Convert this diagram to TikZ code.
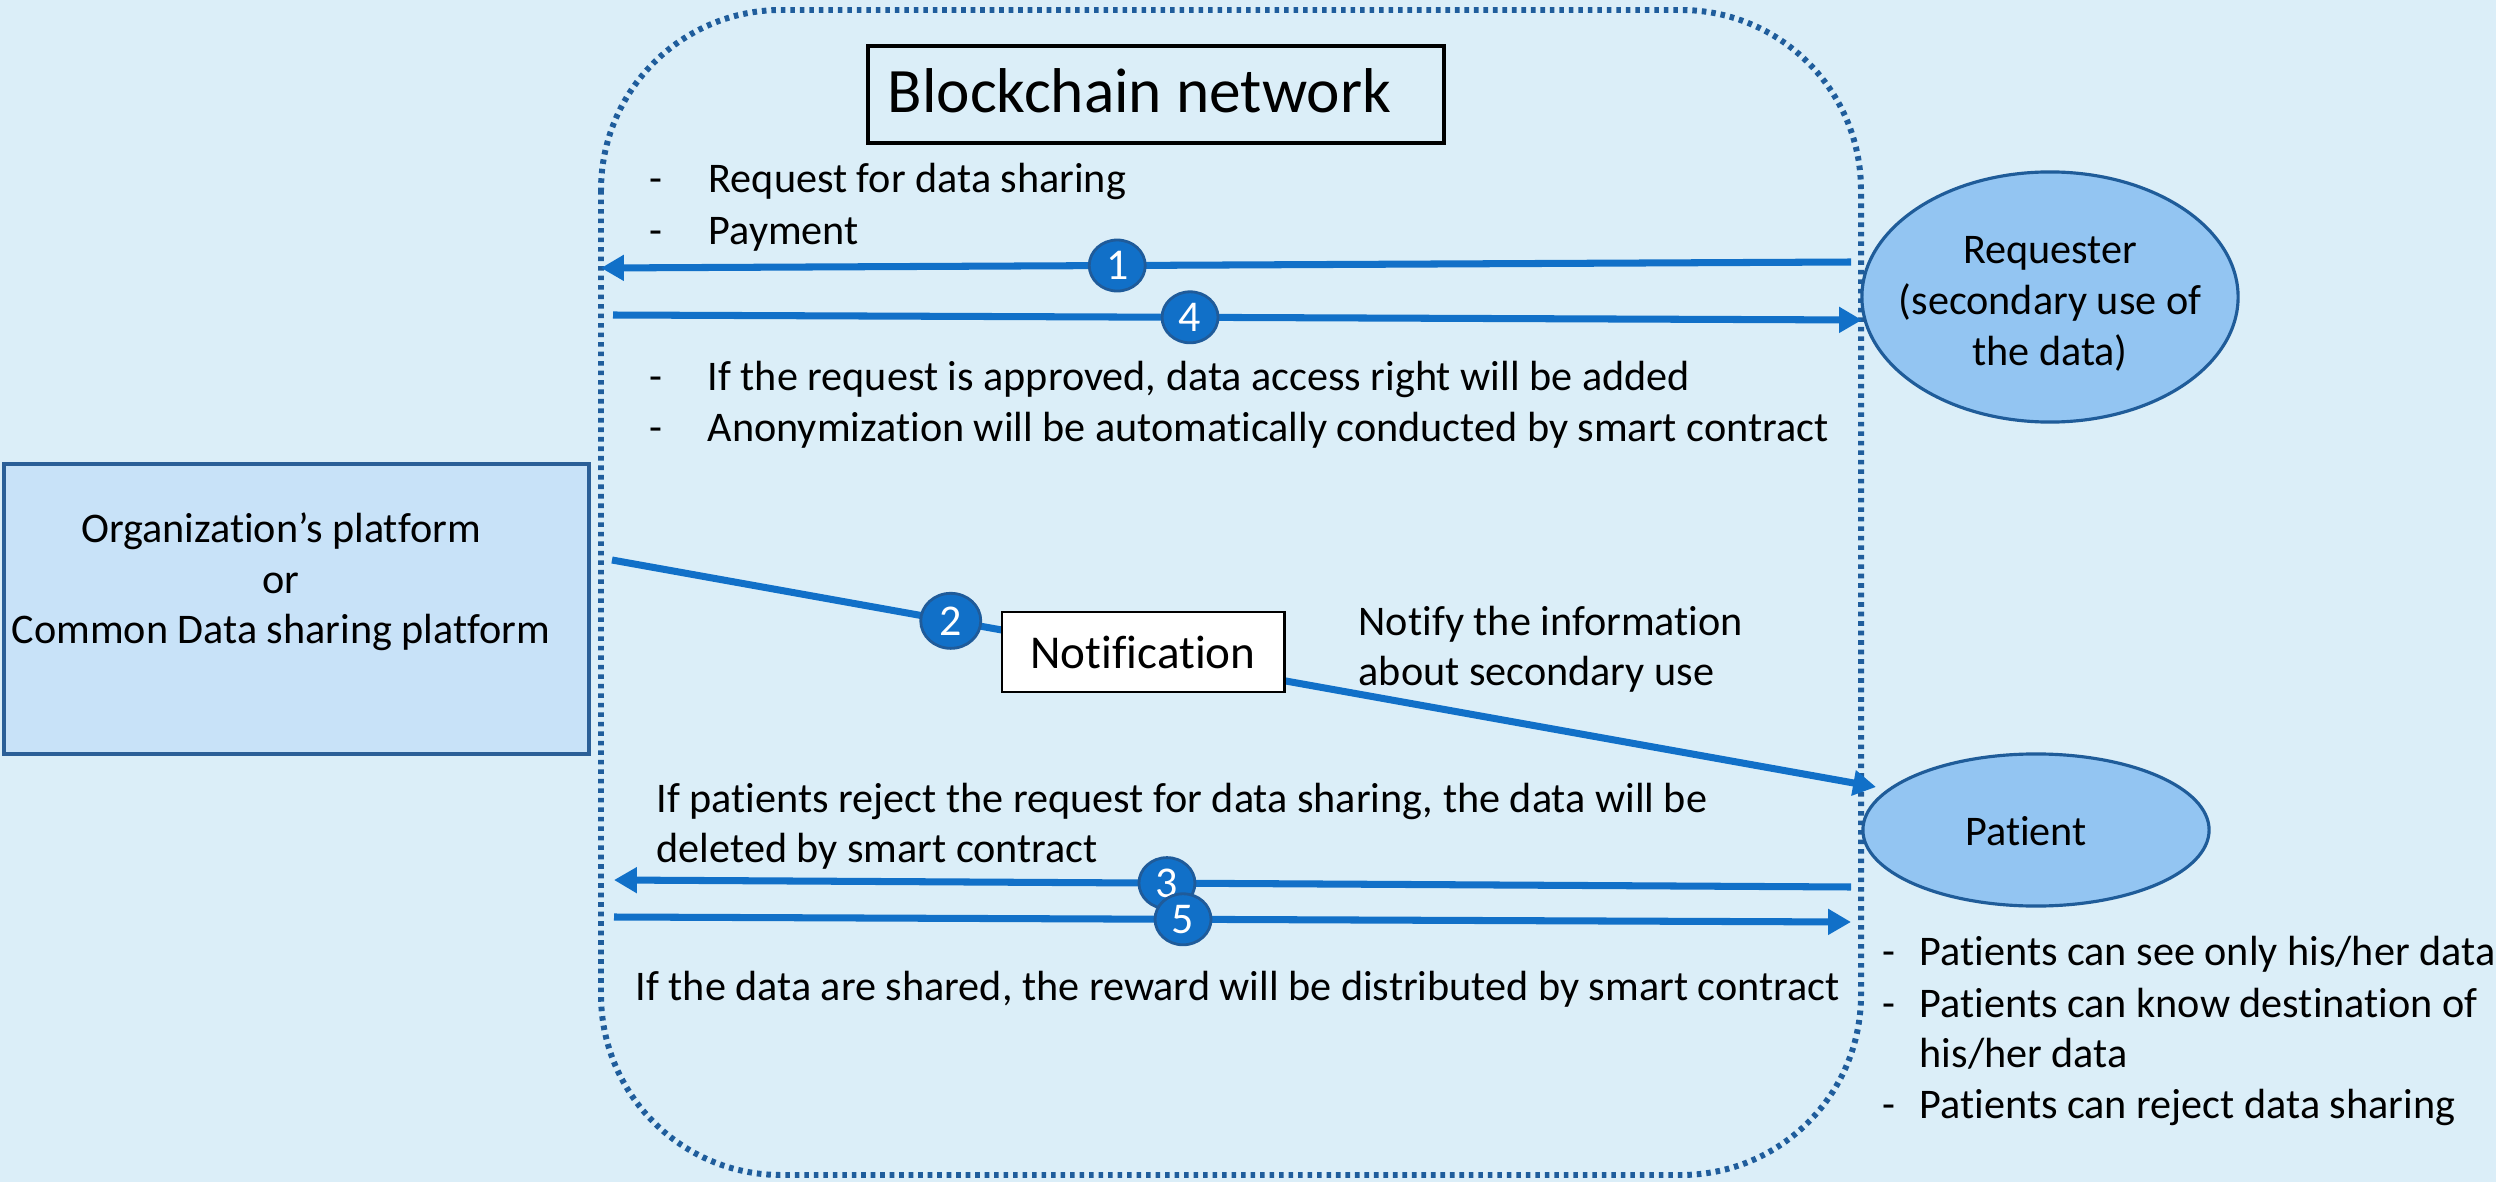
\documentclass[tikz,border=0pt]{standalone}
\usepackage{fontspec}
\setmainfont{Carlito}[Ligatures={NoCommon}]
\usetikzlibrary{arrows.meta,shapes.geometric}
\definecolor{bgblue}{HTML}{DBEEF8}
\definecolor{orgfill}{HTML}{C8E2F8}
\definecolor{orgborder}{HTML}{2B5F97}
\definecolor{ellfill}{HTML}{93C5F2}
\definecolor{ellborder}{HTML}{1F5C99}
\definecolor{arrowblue}{HTML}{1170C8}
\definecolor{badgeborder}{HTML}{1F5B9A}
\definecolor{dotblue}{HTML}{1F5D9C}
\newcommand\bodyfont{\fontsize{12}{14.4}\selectfont}
\tikzset{
  txt/.style={font=\bodyfont, inner sep=0pt, anchor=base west},
  ctrtxt/.style={font=\bodyfont, inner sep=0pt, anchor=base},
  flow/.style={draw=arrowblue, line width=2pt, -{Triangle[length=6.5pt,width=7pt]}},
  badge/.style={ellipse, fill=arrowblue, draw=badgeborder, line width=0.8pt,
    minimum width=0.56cm, minimum height=0.51cm, inner sep=0pt, text=white,
    font=\fontsize{12.5}{12.5}\selectfont},
  actor/.style={ellipse, draw=ellborder, fill=ellfill, line width=0.9pt, inner sep=0pt},
  actortext/.style={inner sep=0pt, align=center, font=\bodyfont},
  netborder/.style={draw=dotblue, line width=1.7pt, dash pattern=on 1.3pt off 1.4pt,
    rounded corners=1.8cm},
}
\begin{document}
\begin{tikzpicture}[x=0.01cm,y=-0.01cm]
\fill[bgblue] (0,0) rectangle (2496,1182);
\useasboundingbox (0,0) rectangle (2496,1182);

% blockchain network border
\draw[netborder] (601,10) rectangle (1861,1175);
\node[draw=black, line width=1pt, minimum width=5.76cm, minimum height=0.97cm,
  anchor=north west, inner sep=0pt] (title) at (866,44) {};
\node[font=\fontsize{18}{20}\selectfont, inner sep=0pt, anchor=base west] (titletext) at (887,113) {Blockchain network};

% platform box
\node[draw=orgborder, fill=orgfill, line width=1.1pt, minimum width=5.85cm,
  minimum height=2.9cm, anchor=north west, inner sep=0pt] (org) at (2,462) {};
\node[ctrtxt] (org1) at (281,542) {Organization’s platform};
\node[ctrtxt] (org2) at (281,593) {or};
\node[ctrtxt] (org3) at (281,643) {Common Data sharing platform};

% actors
\node[actor, minimum width=3.76cm, minimum height=2.5cm] (req) at (2050,297) {};
\node[actortext] (reqtext) at (2050,304) {Requester\\(secondary use of\\the data)};
\node[actor, minimum width=3.46cm, minimum height=1.52cm] (pat) at (2036,830) {};
\node[actortext] (pattext) at (2026,831) {Patient};

% connector end points
\coordinate (a1s) at (1851,262);
\coordinate (a1e) at (601,268);
\coordinate (a4s) at (613,315);
\coordinate (a4e) at (1862,320);
\coordinate (a2s) at (612,560);
\coordinate (a2e) at (1876,787);
\coordinate (a3s) at (1851,887);
\coordinate (a3e) at (614,880);
\coordinate (a5s) at (614,917);
\coordinate (a5e) at (1851,922);

\draw[flow] (a1s) -- (a1e) node[badge, pos=0.587] (b1) {1};
\draw[flow] (a4s) -- (a4e) node[badge, pos=0.462] (b4) {4};
\draw[flow] (a2s) -- (a2e) node[badge, pos=0.268, minimum width=0.6cm, minimum height=0.55cm] (b2) {2};
\draw[flow] (a3s) -- (a3e) node[badge, pos=0.553] (b3) {3};
\draw[flow] (a5s) -- (a5e) node[badge, pos=0.46] (b5) {5};

% notification
\node[draw=black, fill=white, line width=0.8pt, minimum width=2.82cm,
  minimum height=0.8cm, inner sep=0pt, font=\fontsize{13.4}{14}\selectfont] (notif) at (1143,652) {Notification};

% texts
\node[txt] (t1d) at (649,193) {-};
\node[txt] (t1) at (708,193) {Request for data sharing};
\node[txt] (t2d) at (649,245) {-};
\node[txt] (t2) at (708,245) {Payment};
\node[txt] (t3d) at (649,390) {-};
\node[txt] (t3) at (707,390) {If the request is approved, data access right will be added};
\node[txt] (t4d) at (649,441) {-};
\node[txt] (t4) at (707,441) {Anonymization will be automatically conducted by smart contract};

\node[txt] (n1) at (1358,635) {Notify the information};
\node[txt] (n2) at (1358,685) {about secondary use};

\node[txt] (r1) at (656,812) {If patients reject the request for data sharing, the data will be};
\node[txt] (r2) at (656,862) {deleted by smart contract};

\node[txt] (s1) at (635,1000) {If the data are shared, the reward will be distributed by smart contract};

\node[txt] (p1d) at (1882,965) {-};
\node[txt] (p1) at (1919,965) {Patients can see only his/her data};
\node[txt] (p2d) at (1882,1017) {-};
\node[txt] (p2) at (1919,1017) {Patients can know destination of};
\node[txt] (p3) at (1919,1067) {his/her data};
\node[txt] (p4d) at (1882,1118) {-};
\node[txt] (p4) at (1919,1118) {Patients can reject data sharing};
\end{tikzpicture}
\end{document}
